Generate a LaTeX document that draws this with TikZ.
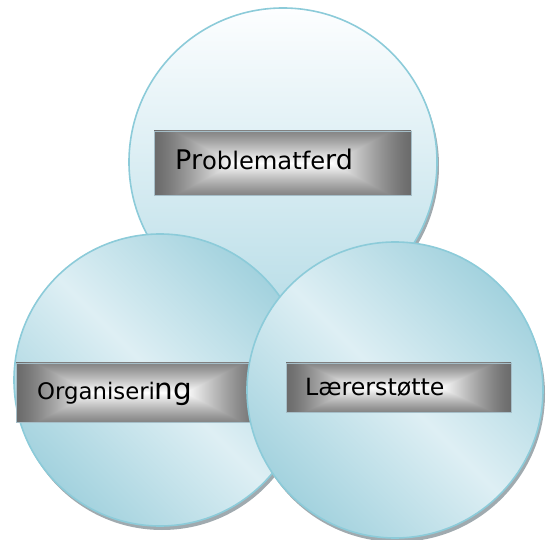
\documentclass[tikz,border=0pt]{standalone}
\usepackage{fontspec}
\setmainfont{DejaVu Sans}
\definecolor{cborder}{RGB}{140,203,217}
\definecolor{ctoplight}{RGB}{253,254,255}
\definecolor{ctopdark}{RGB}{184,221,231}
\definecolor{clight}{RGB}{222,239,244}
\definecolor{cdark}{RGB}{163,210,222}
\definecolor{cshadow}{RGB}{160,170,175}
\definecolor{lblborder}{RGB}{165,190,200}
\pgfdeclarefunctionalshading{labelshade}{\pgfpoint{0bp}{0bp}}{\pgfpoint{100bp}{100bp}}{}{
50 sub abs 25 div 1 exch sub 0.75 mul 0.25 add
exch
50 sub abs 25 div 1 exch sub 1.6 mul
2 copy gt {exch} if pop
dup 0 lt {pop 0} if
dup 1 gt {pop 1} if
1.3 exp 0.58 mul 0.42 add
dup dup
}
\tikzset{
  bubbleshadow/.style={circle, inner sep=0pt, fill=cshadow},
  topbubble/.style={circle, inner sep=0pt, draw=cborder, line width=1.6pt, top color=ctoplight, bottom color=ctopdark},
  sidebubble/.style={circle, inner sep=0pt, draw=cborder, line width=1.6pt, left color=cdark, right color=cdark, middle color=clight, shading angle=-45},
  labelbox/.style={rectangle, inner sep=0pt, draw=lblborder, line width=0.6pt, shading=labelshade},
  labeltext/.style={anchor=base west, inner sep=0pt, text=black}
}
\begin{document}
\begin{tikzpicture}[x=1pt,y=-1pt]
\useasboundingbox (0,0) rectangle (547,540);
% top circle
\node[bubbleshadow, minimum size=308pt] (topsh) at (285,166) {};
\node[topbubble, minimum size=308pt] (top) at (283,162) {};
\node[labelbox, minimum width=257pt, minimum height=64pt] (pbox) at (282.5,163) {};
\node[labeltext] (ptext) at (175,170) {{\fontsize{27}{27}\selectfont Pr}{\fontsize{24.2}{24.2}\selectfont oblematfe}{\fontsize{27}{27}\selectfont rd}};
% left circle
\node[bubbleshadow, minimum size=292pt] (leftsh) at (162,384) {};
\node[sidebubble, minimum size=292pt] (left) at (160,380) {};
\node[labelbox, minimum width=246pt, minimum height=59pt] (obox) at (139,392.5) {};
\node[labeltext] (otext) at (37,400) {{\fontsize{22.8}{22.8}\selectfont Organiseri}{\fontsize{29.5}{29.5}\selectfont ng}};
% right circle
\node[bubbleshadow, minimum size=296pt] (rightsh) at (397,394) {};
\node[sidebubble, minimum size=296pt] (right) at (395,390) {};
\node[labelbox, minimum width=225pt, minimum height=49pt] (lbox) at (398.5,387.5) {};
\node[labeltext] (ltext) at (305,395.5) {\fontsize{23.7}{23.7}\selectfont Lærerstøtte};
\end{tikzpicture}
\end{document}
